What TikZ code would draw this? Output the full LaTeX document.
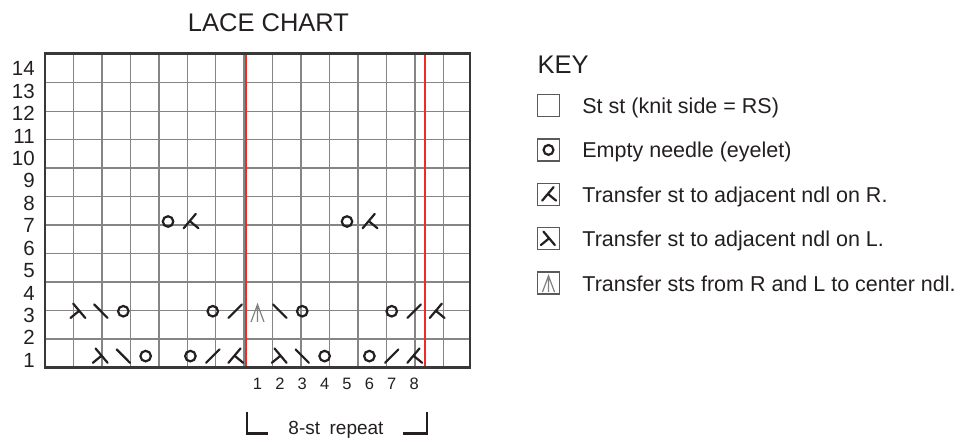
\documentclass[tikz,border=0pt]{standalone}
\usepackage{fontspec}
\setmainfont{Liberation Sans}
\definecolor{inkDark}{HTML}{231F20}
\definecolor{gridGray}{HTML}{858585}
\definecolor{frameGray}{HTML}{383838}
\definecolor{boxGray}{HTML}{5A5A5A}
\definecolor{repeatRed}{HTML}{EE2B24}
\usetikzlibrary{positioning}

\tikzset{
  stitch/.style={draw=inkDark, line width=2.2pt, line cap=round},
  thinstitch/.style={draw=gray, line width=1.2pt},
  eyelet/.pic={\draw[stitch] (0,0) circle[radius=0.235];},
  slashR/.pic={\draw[stitch] (-0.3,-0.3) -- (0.3,0.3);},
  slashL/.pic={\draw[stitch] (-0.3,0.3) -- (0.3,-0.3);},
  xferR/.pic={\draw[stitch] (0.24,0.34) -- (-0.3,-0.3) (-0.03,0.02) -- (0.36,-0.3);},
  xferL/.pic={\draw[stitch] (-0.24,0.34) -- (0.3,-0.3) (0.03,0.02) -- (-0.36,-0.3);},
  centerdec/.pic={\draw[thinstitch] (-0.29,-0.48) -- (0,0.3) -- (0.29,-0.48) (0,0.3) -- (0,-0.48);},
  heading/.style={text=inkDark, font=\fontsize{25.5}{30}\selectfont, inner sep=0pt},
  rownum/.style={text=inkDark, font=\fontsize{20.5}{24}\selectfont, inner sep=0pt},
  colnum/.style={text=inkDark, font=\fontsize{16.5}{20}\selectfont, inner sep=0pt},
  keybox/.style={draw=boxGray, line width=1.4pt, minimum size=22pt, inner sep=0pt},
  keytext/.style={text=inkDark, font=\fontsize{21.5}{26}\selectfont, inner sep=0pt},
  bracket/.style={draw=inkDark, line width=2.2pt}
}

\begin{document}
\begin{tikzpicture}[x=1pt, y=-1pt]
  \useasboundingbox (0,0) rectangle (971,439);

  \node[heading, anchor=base] (title) at (268.5,31.7) {LACE CHART};

  % chart, one unit = one stitch
  \begin{scope}[shift={(45,367.3)}, x=22.37pt, y=22.43pt]
    \draw[gridGray, line width=1.4pt] (0,0) grid (19,14);
    \draw[repeatRed, line width=1.8pt] (9,0) -- (9,14) (17,0) -- (17,14);
    \draw[frameGray, line width=2.6pt] (0,0) rectangle (19,14);

    \foreach \r in {1,...,14}
      \node[rownum, anchor=base east] (row\r) at (-0.45,\r-1) {\r};
    \foreach \n in {1,...,8}
      \node[colnum, anchor=base] (st\n) at (\n+8.5,-1) {\n};

    \foreach \c/\r in {5/1,7/1,13/1,15/1,4/3,8/3,12/3,16/3,6/7,14/7}
      \pic at (\c-0.5,\r-0.5) {eyelet};
    \foreach \c/\r in {8/1,16/1,9/3,17/3}
      \pic at (\c-0.5,\r-0.5) {slashR};
    \foreach \c/\r in {4/1,12/1,3/3,11/3}
      \pic at (\c-0.5,\r-0.5) {slashL};
    \foreach \c/\r in {3/1,11/1,2/3}
      \pic at (\c-0.5,\r-0.5) {xferL};
    \foreach \c/\r in {9/1,17/1,18/3,7/7,15/7}
      \pic at (\c-0.5,\r-0.5) {xferR};
    \pic at (9.5,2.5) {centerdec};
  \end{scope}

  \node[colnum, font=\fontsize{19}{22}\selectfont, anchor=base] (repeat) at (336,434) {8-st\enspace repeat};
  \draw[bracket] (247,411.5) |- (268,433.5);
  \draw[bracket] (403,433.5) -| (427,411.5);

  % key
  \node[heading, anchor=base west] (keytitle) at (537.5,73) {KEY};
  \foreach \i/\txt in {1/{St st (knit side = RS)},
                       2/{Empty needle (eyelet)},
                       3/{Transfer st to adjacent ndl on R.},
                       4/{Transfer st to adjacent ndl on L.},
                       5/{Transfer sts from R and L to center ndl.}} {
    \node[keybox] (kbox\i) at (548.5,{105.5+44.4*(\i-1)}) {};
    \node[keytext, anchor=base west] (ktext\i) at ([xshift=22pt, yshift=-8pt]kbox\i.east) {\txt};
  }
  \pic[x=21pt, y=21pt] at (kbox2) {eyelet};
  \pic[x=21pt, y=21pt] at (kbox3) {xferR};
  \pic[x=21pt, y=21pt] at (kbox4) {xferL};
  \pic[x=21pt, y=21pt] at ([yshift=1pt]kbox5) {centerdec};
\end{tikzpicture}
\end{document}
